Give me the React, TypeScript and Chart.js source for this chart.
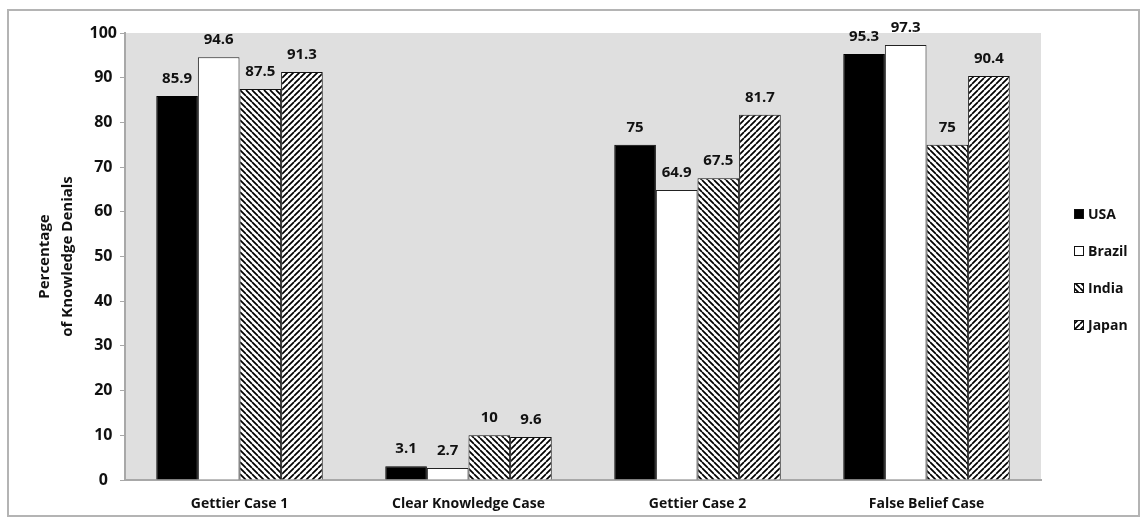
import React, { useEffect, useRef } from 'react';
import { Chart, registerables } from 'chart.js';

Chart.register(...registerables);

const categories = ['Gettier Case 1', 'Clear Knowledge Case', 'Gettier Case 2', 'False Belief Case'];
const seriesNames = ['USA', 'Brazil', 'India', 'Japan'];
const usaValues = [85.9, 3.1, 75, 95.3];
const brazilValues = [94.6, 2.7, 64.9, 97.3];
const indiaValues = [87.5, 10, 67.5, 75];
const japanValues = [91.3, 9.6, 81.7, 90.4];
const yTickValues = [0, 10, 20, 30, 40, 50, 60, 70, 80, 90, 100];
const yTitleLines = ['Percentage', 'of Knowledge Denials'];

const FONT = '"Open Sans", "DejaVu Sans", sans-serif';

function makeHatch(dir: 'down' | 'up'): CanvasPattern | string {
  const s = 6;
  const c = document.createElement('canvas');
  c.width = s;
  c.height = s;
  const g = c.getContext('2d');
  if (!g) return '#888';
  g.fillStyle = '#fff';
  g.fillRect(0, 0, s, s);
  g.strokeStyle = '#000';
  g.lineWidth = 1.7;
  g.beginPath();
  for (const k of [-s, 0, s]) {
    if (dir === 'down') {
      g.moveTo(k, 0);
      g.lineTo(k + s, s);
    } else {
      g.moveTo(k, s);
      g.lineTo(k + s, 0);
    }
  }
  g.stroke();
  return g.createPattern(c, 'repeat') || '#888';
}

export default function App() {
  const ref = useRef<HTMLCanvasElement | null>(null);

  useEffect(() => {
    document.body.style.margin = '0';
    const canvas = ref.current;
    if (!canvas) return;

    const fills = ['#000000', '#ffffff', makeHatch('down'), makeHatch('up')];
    const borders = ['#000000', '#222222', '#111111', '#111111'];
    const values = [usaValues, brazilValues, indiaValues, japanValues];

    const bgPlugin = {
      id: 'bgPlugin',
      beforeDraw(chart: any) {
        const { ctx, chartArea } = chart;
        ctx.save();
        ctx.fillStyle = '#ffffff';
        ctx.fillRect(0, 0, chart.width, chart.height);
        ctx.fillStyle = '#dfdfdf';
        ctx.fillRect(chartArea.left, chartArea.top, chartArea.right - chartArea.left, chartArea.bottom - chartArea.top);
        ctx.strokeStyle = '#b4b4b4';
        ctx.lineWidth = 2;
        ctx.strokeRect(8, 10, 1131, 506);
        ctx.restore();
      },
    };

    const overlayPlugin = {
      id: 'overlayPlugin',
      afterDatasetsDraw(chart: any) {
        const { ctx, chartArea } = chart;
        ctx.save();
        // data labels
        ctx.fillStyle = '#111';
        ctx.font = `bold 15px ${FONT}`;
        ctx.textAlign = 'center';
        ctx.textBaseline = 'alphabetic';
        chart.data.datasets.forEach((ds: any, i: number) => {
          const meta = chart.getDatasetMeta(i);
          meta.data.forEach((bar: any, j: number) => {
            ctx.fillText(String(ds.data[j]), bar.x, bar.y - 13);
          });
        });
        // y title
        const cy = (chartArea.top + chartArea.bottom) / 2;
        ctx.font = `bold 15px ${FONT}`;
        ctx.textBaseline = 'middle';
        ctx.textAlign = 'center';
        const xs = [45, 68];
        yTitleLines.forEach((line, k) => {
          ctx.save();
          ctx.translate(xs[k], cy);
          ctx.rotate(-Math.PI / 2);
          ctx.fillText(line, 0, 0);
          ctx.restore();
        });
        // legend
        ctx.font = `bold 14px ${FONT}`;
        ctx.textAlign = 'left';
        ctx.textBaseline = 'middle';
        const ys = [214, 251, 288, 325];
        chart.data.datasets.forEach((ds: any, i: number) => {
          const y = ys[i];
          ctx.fillStyle = ds.backgroundColor;
          ctx.fillRect(1074, y - 5, 10, 10);
          ctx.strokeStyle = '#111';
          ctx.lineWidth = 1;
          ctx.strokeRect(1074.5, y - 4.5, 9, 9);
          ctx.fillStyle = '#111';
          ctx.fillText(ds.label, 1088, y + 1);
        });
        ctx.restore();
      },
    };

    const chart = new Chart(canvas, {
      type: 'bar',
      data: {
        labels: categories,
        datasets: seriesNames.map((name, i) => ({
          label: name,
          data: values[i],
          backgroundColor: fills[i] as any,
          borderColor: borders[i],
          borderWidth: 1,
          categoryPercentage: 0.727,
          barPercentage: 1,
        })),
      },
      options: {
        responsive: false,
        animation: false,
        layout: { padding: { top: 33, right: 105, left: 0, bottom: 0 } },
        plugins: {
          legend: { display: false },
          tooltip: { enabled: false },
          title: { display: false },
        },
        scales: {
          x: {
            grid: { display: false, drawTicks: false },
            border: { display: true, color: '#a8a8a8', width: 2 },
            ticks: {
              color: '#111',
              font: { family: FONT, size: 14, weight: 'bold' },
              padding: 16,
              maxRotation: 0,
              autoSkip: false,
            },
            afterFit(scale: any) {
              scale.height = 40;
            },
          },
          y: {
            min: 0,
            max: 100,
            afterBuildTicks(scale: any) {
              scale.ticks = yTickValues.map((v) => ({ value: v }));
            },
            grid: {
              drawOnChartArea: false,
              drawTicks: true,
              tickLength: 5,
              color: '#a8a8a8',
              lineWidth: 1,
            },
            border: { display: true, color: '#a8a8a8', width: 2 },
            ticks: {
              color: '#111',
              font: { family: FONT, size: 16, weight: 'bold' },
              padding: 3,
              crossAlign: 'center',
            },
            afterFit(scale: any) {
              scale.width = 125;
            },
          },
        },
      },
      plugins: [bgPlugin, overlayPlugin],
    });

    return () => {
      chart.destroy();
    };
  }, []);

  return (
    <div style={{ width: 1146, height: 520 }}>
      <canvas ref={ref} width={1146} height={520} style={{ display: 'block', width: 1146, height: 520 }} />
    </div>
  );
}
